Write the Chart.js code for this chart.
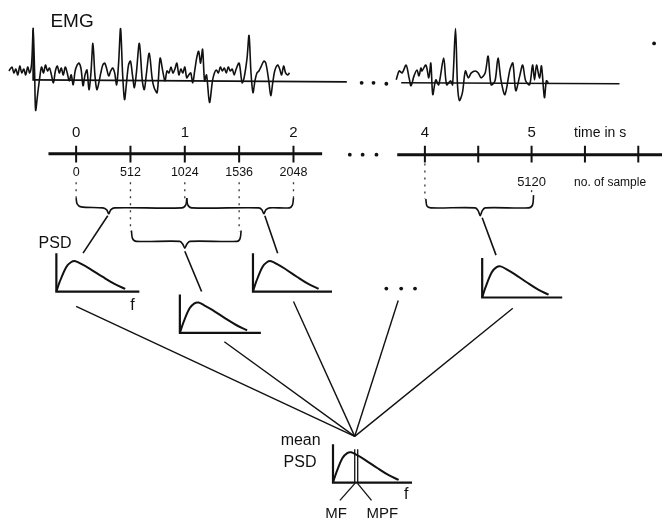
<!DOCTYPE html>
<html>
<head>
<meta charset="utf-8">
<script src="https://cdn.jsdelivr.net/npm/chart.js@4.4.1/dist/chart.umd.min.js"></script>
<style>
    html, body { margin: 0; padding: 0; background: #fff; }
    #wrap { width: 666px; height: 527px; }
</style>
</head>
<body>
<div id="wrap"><canvas id="diagram" width="666" height="527"></canvas></div>
<script>
// EMG trace, first recording (x, y in diagram units)
var emgAx = [5, 8, 10, 12, 14, 16, 18, 20, 22, 24, 26, 28, 29.5, 31, 32, 34, 36, 38, 40, 42, 44, 46, 48, 50, 52, 54, 56, 58, 60, 62, 64, 66, 68, 70, 72, 74, 76, 78, 80, 82, 84, 86, 88, 90, 92, 94, 96, 98, 100, 102, 104, 106, 108, 110, 112, 114, 116, 118, 120, 122, 124, 126, 128, 130, 132, 134, 137, 140, 142, 144, 147, 150, 152, 155, 158, 161, 163, 165, 167, 169, 171, 173, 175, 177, 179, 181, 183, 185, 187, 189, 191, 193, 195, 197, 199, 201, 203, 205, 208, 211, 213, 215, 217, 219, 221, 223, 225, 227, 229, 231, 233, 235, 238, 241, 243, 246, 248, 250, 252, 254, 256, 258, 260, 263, 265, 268, 270, 272, 274, 277, 279, 281, 283, 285, 287, 289];
var emgAy = [68, 64, 70, 66, 72, 63, 70, 66, 72, 64, 70, 60, 27, 70, 108, 92, 76, 64, 70, 62, 68, 65, 72, 80, 68, 63, 70, 65, 72, 64, 70, 78, 72, 82, 68, 62, 60, 66, 83, 72, 67, 87, 70, 40, 72, 87, 80, 70, 62, 60, 66, 73, 68, 65, 70, 82, 60, 25, 70, 97, 80, 62, 58, 72, 85, 70, 40, 78, 87, 72, 50, 76, 85, 90, 55, 70, 78, 68, 70, 64, 70, 66, 60, 72, 66, 70, 64, 75, 72, 70, 80, 68, 55, 48, 60, 46, 78, 72, 100, 78, 70, 67, 70, 64, 68, 65, 70, 64, 68, 66, 72, 66, 60, 80, 75, 55, 32, 70, 90, 78, 70, 68, 64, 58, 60, 78, 93, 80, 68, 62, 66, 72, 63, 70, 72, 70];

// EMG trace, later recording
var emgBx = [397, 400, 403, 407, 410, 412, 415, 418, 420, 422, 423, 427, 430, 432, 434, 437, 440, 445, 448, 452, 454, 457, 459, 461, 464, 467, 470, 473, 477, 480, 483, 487, 490, 493, 497, 500, 503, 507, 512, 515, 518, 522, 525, 528, 532, 535, 537, 539, 542, 544, 547, 549, 551];
var emgBy = [77, 68, 70, 62, 75, 83, 73, 67, 73, 65, 68, 62, 75, 60, 92, 77, 82, 55, 82, 78, 82, 25, 82, 98, 90, 68, 75, 70, 68, 70, 75, 70, 53, 82, 78, 55, 77, 92, 67, 60, 88, 73, 62, 78, 82, 62, 77, 62, 75, 63, 95, 78, 80];

// time axis (seconds) and sample numbers
var timeTicks = [0, 0.5, 1, 1.5, 2, 4, 4.5, 5, 5.5, 6];
var timeLabels = ['0', '1', '2', '4', '5'];
var sampleLabels = ['0', '512', '1024', '1536', '2048', '5120'];
var samplesPerSecond = 1024;

// normalised PSD shape (frequency, power)
var psdFreq = [0, 0.04, 0.12, 0.18, 0.23, 0.3, 0.4, 0.56, 0.7, 0.83];
var psdPower = [0, 0.25, 0.64, 0.77, 0.79, 0.72, 0.6, 0.38, 0.2, 0.07];

var INK = '#111';

function timeToX(t) {
    return t < 3 ? 73 + 110 * t : 426 + 108 * (t - 4);
}

function pts(xs, ys) {
    return xs.map(function (x, i) { return { x: x, y: ys[i] }; });
}

function line(points, width, extra) {
    var ds = {
        data: points,
        showLine: true,
        borderColor: INK,
        borderWidth: width || 1.4,
        pointRadius: 0,
        tension: 0,
        fill: false,
    };
    return Object.assign(ds, extra || {});
}

function psdPanel(x0, y0, w, h) {
    var curve = psdFreq.map(function (f, i) { return { x: x0 + f * w, y: y0 - psdPower[i] * h }; });
    return [
        line([{ x: x0, y: y0 - h }, { x: x0, y: y0 }, { x: x0 + w, y: y0 }], 2.2),
        line(curve, 2, { tension: 0.35 }),
    ];
}

var datasets = [];

// EMG traces and baselines
datasets.push(line([{ x: 30, y: 77 }, { x: 347, y: 79 }], 1.7));
datasets.push(line([{ x: 402, y: 80 }, { x: 623, y: 81 }], 1.5));
datasets.push(line(pts(emgAx, emgAy), 1.6, { tension: 0.3 }));
datasets.push(line(pts(emgBx, emgBy), 1.6, { tension: 0.3 }));
datasets.push(line([{ x: 29.5, y: 24 }, { x: 29.5, y: 78 }], 1.7));

// time axis
datasets.push(line([{ x: 45, y: 152 }, { x: 322, y: 152 }], 3));
datasets.push(line([{ x: 398, y: 153 }, { x: 666, y: 153 }], 3));
timeTicks.forEach(function (t) {
    var x = timeToX(t);
    datasets.push(line([{ x: x, y: 144 }, { x: x, y: 161 }], 2));
});

// dotted guides down to the windows
[[0, 181, 197], [0.5, 181, 231], [1, 181, 198], [1.5, 181, 231], [2, 181, 198], [4, 162, 198], [5, 189, 194]].forEach(function (g) {
    var x = timeToX(g[0]);
    datasets.push(line([{ x: x, y: g[1] }, { x: x, y: g[2] }], 1.3, { borderDash: [2, 5], borderColor: '#333' }));
});

// window braces
datasets.push(line([{ x: 73, y: 197 }, { x: 74, y: 203 }, { x: 78, y: 206 }, { x: 100, y: 207 }, { x: 104, y: 209 }, { x: 106, y: 213 }, { x: 108, y: 209 }, { x: 112, y: 207 }, { x: 180, y: 207 }, { x: 184, y: 204 }, { x: 185, y: 197 }], 1.6, { tension: 0.3 }));
datasets.push(line([{ x: 185, y: 197 }, { x: 186, y: 204 }, { x: 190, y: 207 }, { x: 258, y: 207 }, { x: 261, y: 209 }, { x: 263, y: 213 }, { x: 265, y: 209 }, { x: 269, y: 207 }, { x: 289, y: 207 }, { x: 292, y: 204 }, { x: 293, y: 197 }], 1.6, { tension: 0.3 }));
datasets.push(line([{ x: 129, y: 230 }, { x: 130, y: 238 }, { x: 134, y: 241 }, { x: 178, y: 241 }, { x: 181, y: 244 }, { x: 183, y: 248 }, { x: 185, y: 244 }, { x: 188, y: 241 }, { x: 236, y: 241 }, { x: 239, y: 238 }, { x: 240, y: 230 }], 1.6, { tension: 0.3 }));
datasets.push(line([{ x: 427, y: 198 }, { x: 428, y: 205 }, { x: 432, y: 207 }, { x: 477, y: 207 }, { x: 480, y: 210 }, { x: 482, y: 215 }, { x: 484, y: 210 }, { x: 487, y: 207 }, { x: 531, y: 207 }, { x: 535, y: 204 }, { x: 536, y: 194 }], 1.6, { tension: 0.3 }));

// braces to spectra
[[105, 215, 80, 253], [264, 215, 277, 253], [183, 251, 200, 292], [484, 217, 498, 255]].forEach(function (s) {
    datasets.push(line([{ x: s[0], y: s[1] }, { x: s[2], y: s[3] }], 1.6));
});

// spectra
datasets = datasets.concat(psdPanel(53, 292, 84, 39));
datasets = datasets.concat(psdPanel(178, 334, 82, 39));
datasets = datasets.concat(psdPanel(252, 292, 80, 39));
datasets = datasets.concat(psdPanel(484, 298, 81, 40));
datasets = datasets.concat(psdPanel(333, 486, 80, 39));

// spectra averaged into one point
[[73, 307], [223, 343], [293, 302], [399, 301], [515, 309]].forEach(function (p) {
    datasets.push(line([{ x: p[0], y: p[1] }, { x: 355, y: 439 }], 1.4));
});

// MF / MPF markers
datasets.push(line([{ x: 355, y: 452 }, { x: 355, y: 487 }], 1.3));
datasets.push(line([{ x: 358, y: 452 }, { x: 358, y: 487 }], 1.3));
datasets.push(line([{ x: 355, y: 487 }, { x: 340, y: 504 }], 1.3));
datasets.push(line([{ x: 358, y: 487 }, { x: 372, y: 504 }], 1.3));

// ellipsis dots
datasets.push({
    data: [{ x: 362, y: 80 }, { x: 374, y: 80 }, { x: 387, y: 81 }, { x: 350, y: 153 }, { x: 363, y: 153 }, { x: 377, y: 153 }, { x: 387, y: 289 }, { x: 402, y: 289 }, { x: 416, y: 289 }, { x: 658, y: 40 }],
    showLine: false,
    pointRadius: 1.9,
    pointBackgroundColor: INK,
    pointBorderWidth: 0,
});

var texts = [
    { text: 'EMG', x: 47, y: 18, size: 19, align: 'left' },
    { text: 'time in s', x: 577, y: 131, size: 14, align: 'left' },
    { text: 'no. of sample', x: 577, y: 181, size: 12, align: 'left' },
    { text: 'PSD', x: 35, y: 243, size: 16, align: 'left' },
    { text: 'f', x: 130, y: 306, size: 16, align: 'center' },
    { text: 'mean', x: 280, y: 443, size: 16, align: 'left' },
    { text: 'PSD', x: 283, y: 466, size: 16, align: 'left' },
    { text: 'f', x: 407, y: 498, size: 16, align: 'center' },
    { text: 'MF', x: 336, y: 518, size: 15, align: 'center' },
    { text: 'MPF', x: 383, y: 518, size: 15, align: 'center' },
];
[0, 1, 2, 4, 5].forEach(function (t, i) {
    texts.push({ text: timeLabels[i], x: timeToX(t), y: 131, size: 15, align: 'center' });
});
sampleLabels.forEach(function (s) {
    var n = parseInt(s, 10);
    var far = n > 3 * samplesPerSecond;
    texts.push({ text: s, x: timeToX(n / samplesPerSecond), y: far ? 181 : 171, size: far ? 13 : 12.5, align: 'center' });
});

var textPlugin = {
    id: 'diagramText',
    afterDatasetsDraw: function (chart) {
        var ctx = chart.ctx;
        var sx = chart.scales.x;
        var sy = chart.scales.y;
        ctx.save();
        ctx.fillStyle = INK;
        ctx.textBaseline = 'middle';
        texts.forEach(function (t) {
            ctx.font = t.size + 'px "Liberation Sans", Arial, sans-serif';
            ctx.textAlign = t.align;
            ctx.fillText(t.text, sx.getPixelForValue(t.x), sy.getPixelForValue(t.y));
        });
        ctx.restore();
    },
};

new Chart(document.getElementById('diagram'), {
    type: 'scatter',
    data: { datasets: datasets },
    options: {
        responsive: false,
        animation: false,
        layout: { padding: 0 },
        plugins: { legend: { display: false }, tooltip: { enabled: false } },
        scales: {
            x: { type: 'linear', min: 0, max: 666, display: false },
            y: { type: 'linear', min: 0, max: 527, reverse: true, display: false },
        },
    },
    plugins: [textPlugin],
});
</script>
</body>
</html>
